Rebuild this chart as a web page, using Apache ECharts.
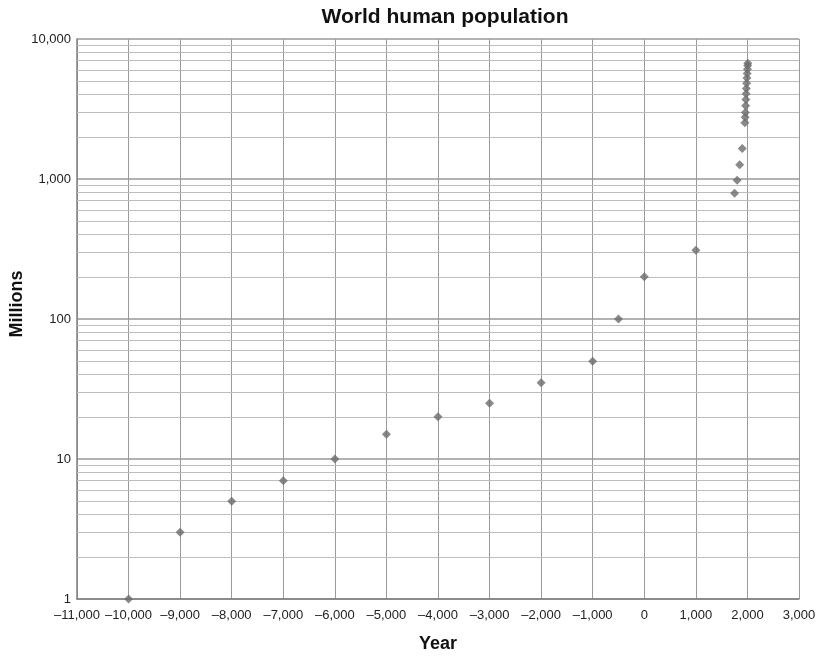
<!DOCTYPE html>
<html><head><meta charset="utf-8">
<script src="https://cdn.jsdelivr.net/npm/echarts@6/dist/echarts.min.js"></script>
<style>html,body{margin:0;padding:0;background:#fff}#c{width:823px;height:658px}</style>
</head><body><div id="c"></div>
<script>
const years = [-10000,-9000,-8000,-7000,-6000,-5000,-4000,-3000,-2000,-1000,-500,0,1000,1750,1800,1850,1900,1950,1955,1960,1965,1970,1975,1980,1985,1990,1995,2000,2005,2008];
const population = [1,3,5,7,10,15,20,25,35,50,100,200,310,791,978,1262,1650,2519,2756,2982,3335,3692,4068,4435,4831,5263,5674,6070,6454,6700];
const minorGridValues = [2,3,4,5,6,7,8,9,20,30,40,50,60,70,80,90,200,300,400,500,600,700,800,900,2000,3000,4000,5000,6000,7000,8000,9000];

const fmt = v => {
  const s = Math.abs(v).toLocaleString('en-US');
  return (v < 0 ? '\u2013' : '') + s;
};
const font = 'Liberation Sans, Arial, sans-serif';
const chart = echarts.init(document.getElementById('c'), null, {renderer:'canvas'});
chart.setOption({
  animation:false,
  title:{text:'World human population', left:440, top:2, textAlign:'center',
    textStyle:{fontFamily:font, fontSize:21, fontWeight:'bold', color:'#111'}},
  graphic:[{type:'text', x:8, y:304, rotation:Math.PI/2,
    style:{text:'Millions', fontFamily:font, fontSize:18, fontWeight:'bold', fill:'#111',
      align:'center', verticalAlign:'top'}}],
  grid:{left:77, right:24, top:39, bottom:55, containLabel:false},
  xAxis:{type:'value', min:-11000, max:3000, interval:1000,
    name:'Year', nameLocation:'middle', nameGap:36,
    nameTextStyle:{fontFamily:font, fontSize:18, fontWeight:'bold', color:'#111'},
    axisLine:{lineStyle:{color:'#808080', width:1.5}}, axisTick:{show:false},
    axisLabel:{formatter:fmt, fontFamily:font, fontSize:13, color:'#222', margin:10},
    splitLine:{show:true, lineStyle:{color:'#9a9a9a', width:1}}},
  yAxis:{type:'log', logBase:10, min:1, max:10000,
    axisLine:{show:true, onZero:false, lineStyle:{color:'#808080', width:1.5}}, axisTick:{show:false},
    axisLabel:{formatter:v=>Math.round(v).toLocaleString('en-US'), fontFamily:font, fontSize:13, color:'#222', margin:6},
    splitLine:{show:true, lineStyle:{color:'#999', width:1.5}}},
  series:[
    {type:'scatter', symbol:'diamond', symbolSize:9, z:5,
      itemStyle:{color:'#6b6b6b'},
      data: years.map((y,i)=>[y, population[i]]),
      markLine:{silent:true, symbol:'none', label:{show:false}, animation:false,
        lineStyle:{color:'#bdbdbd', width:1, type:'solid'},
        data: minorGridValues.map(v=>({yAxis:v}))}}
  ]
});
</script></body></html>
